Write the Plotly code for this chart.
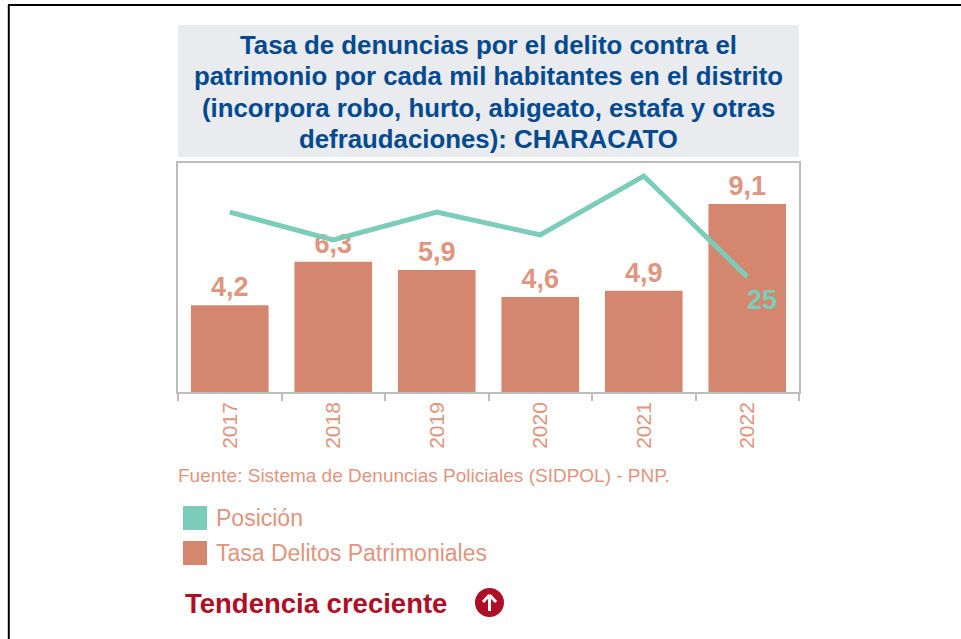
import plotly.graph_objects as go

W, H = 961, 639
PL, PR, PT, PB = 178, 799, 163, 392

years = ["2017", "2018", "2019", "2020", "2021", "2022"]
tasa = [4.2, 6.3, 5.9, 4.6, 4.9, 9.1]
posicion = [9.6, 16.2, 9.6, 15, 1, 25]
title_lines = [
    "Tasa de denuncias por el delito contra el",
    "patrimonio por cada mil habitantes en el distrito",
    "(incorpora robo, hurto, abigeato, estafa y otras",
    "defraudaciones): CHARACATO",
]
source = "Fuente: Sistema de Denuncias Policiales (SIDPOL) - PNP."
legend_names = ["Posición", "Tasa Delitos Patrimoniales"]
trend = "Tendencia creciente"

SALMON = "#D5866E"
TXT = "#E0957F"
TEAL = "#7BCDBA"
BLUE = "#044A8F"
RED = "#AE0E26"
GREY = "#BDBDBD"
SANS = "Liberation Sans"


def px(x):
    return (x - PL) / (PR - PL)


def py(y):
    return (PB - y) / (PB - PT)


fig = go.Figure()
fig.add_trace(go.Bar(
    x=years, y=tasa, marker=dict(color=SALMON, line=dict(width=0)),
    texttemplate="%{y:.1f}", textposition="outside", cliponaxis=False,
    textfont=dict(family=SANS, size=27, color=TXT, weight="bold"),
    showlegend=False,
))
fig.add_trace(go.Scatter(
    x=years, y=posicion, yaxis="y2", mode="lines", cliponaxis=False,
    line=dict(color=TEAL, width=5),
    showlegend=False,
))

ann = []
for i, line in enumerate(title_lines):
    ann.append(dict(text=line, x=px(488.5), y=py(45 + i * 31.4), xref="paper", yref="paper",
                    xanchor="center", yanchor="middle", showarrow=False,
                    font=dict(family=SANS, size=25.8, color=BLUE, weight="bold")))
ann.append(dict(text=source, x=px(176), y=py(475), xref="paper", yref="paper", xanchor="left",
                yanchor="middle", showarrow=False, font=dict(family=SANS, size=19, color=TXT)))
for name, y in zip(legend_names, [518, 553]):
    ann.append(dict(text=name, x=px(214), y=py(y), xref="paper", yref="paper", xanchor="left",
                    yanchor="middle", showarrow=False, font=dict(family=SANS, size=23, color=TXT)))
ann.append(dict(text=trend, x=px(183), y=py(603), xref="paper", yref="paper", xanchor="left",
                yanchor="middle", showarrow=False, font=dict(family=SANS, size=27.5, color=RED, weight="bold")))
ann.append(dict(text=str(posicion[-1]), x=len(years) - 1, y=posicion[-1], xref="x", yref="y2", xanchor="center",
                yanchor="middle", xshift=15, yshift=-23, showarrow=False,
                font=dict(family=SANS, size=27, color=TEAL, weight="bold")))


def rect(x0, y0, x1, y1, fill):
    return dict(type="rect", xref="paper", yref="paper", x0=px(x0), x1=px(x1), y0=py(y0), y1=py(y1),
                fillcolor=fill, line=dict(width=0), layer="below")


def seg(x0, y0, x1, y1, color, width):
    return dict(type="line", xref="paper", yref="paper", x0=px(x0), x1=px(x1), y0=py(y0), y1=py(y1),
                line=dict(color=color, width=width))


shapes = [
    rect(178, 25, 799, 157, "#E9EBEF"),
    rect(183, 506, 207, 530, TEAL),
    rect(183, 541, 207, 565, SALMON),
    seg(8, 5, 961, 5, "#000000", 2),
    seg(8.8, 5, 8.8, 639, "#000000", 2),
    dict(type="circle", xref="paper", yref="paper", x0=px(475), x1=px(504), y0=py(588), y1=py(617),
         fillcolor=RED, line=dict(width=0)),
    seg(489.5, 611, 489.5, 596, "#FFFFFF", 3),
    seg(489.5, 595, 483, 602, "#FFFFFF", 3),
    seg(489.5, 595, 496, 602, "#FFFFFF", 3),
]

fig.update_layout(
    width=W, height=H, autosize=False,
    margin=dict(l=PL, r=W - PR, t=PT, b=H - PB, pad=0),
    paper_bgcolor="white", plot_bgcolor="white",
    separators=",.", bargap=0.25,
    xaxis=dict(type="category", tickson="boundaries", ticks="outside", ticklen=7, tickcolor=GREY, tickwidth=1.5,
               showline=True, linecolor=GREY, linewidth=1.5, mirror=True, showgrid=False, tickangle=-90,
               tickfont=dict(family=SANS, size=21, color=TXT)),
    yaxis=dict(range=[0, 11.08], visible=True, showticklabels=False, ticks="", showgrid=False, zeroline=False,
               showline=True, linecolor=GREY, linewidth=1.5, mirror=True),
    yaxis2=dict(range=[52.4, -2.1], overlaying="y", side="right", visible=False),
    annotations=ann, shapes=shapes,
)
fig.write_html("out.html", config={"displayModeBar": False},
               post_script="document.body.style.margin='0';document.body.style.overflow='hidden';")
